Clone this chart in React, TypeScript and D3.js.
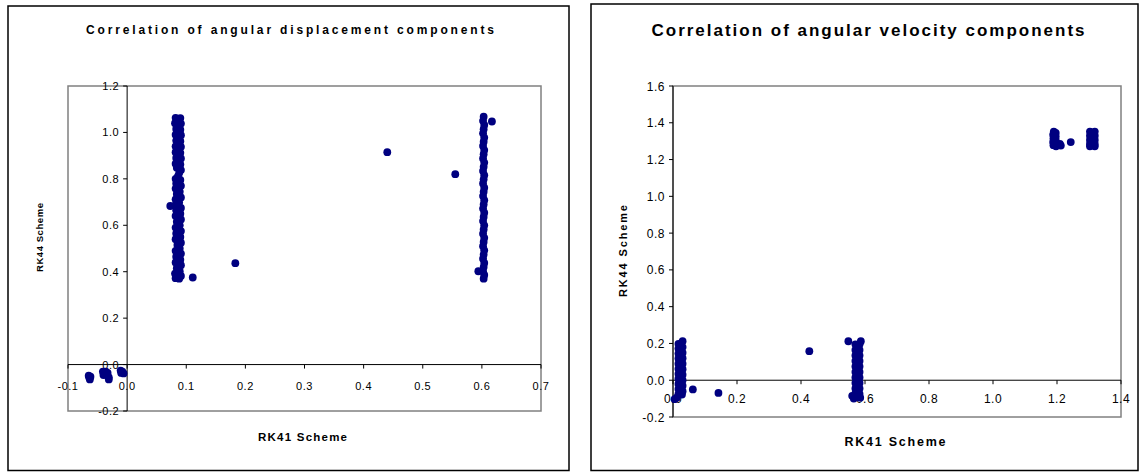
import React from 'react';
import * as d3 from 'd3';

// ---------- Chart 1: angular displacement (RK41 vs RK44) ----------
const dispXTicks = [-0.1, 0.0, 0.1, 0.2, 0.3, 0.4, 0.5, 0.6, 0.7];
const dispYTicks = [-0.2, 0.0, 0.2, 0.4, 0.6, 0.8, 1.0, 1.2];

const dispNegative: [number, number][] = [
  [-0.065, -0.048], [-0.064, -0.056], [-0.063, -0.064], [-0.062, -0.052],
  [-0.041, -0.030], [-0.039, -0.038], [-0.036, -0.031], [-0.033, -0.036],
  [-0.040, -0.045], [-0.034, -0.046], [-0.031, -0.055], [-0.031, -0.064],
  [-0.011, -0.026], [-0.008, -0.031], [-0.006, -0.038], [-0.010, -0.036],
];

const dispBandA: [number, number][] = [
  [0.082, 1.063], [0.090, 1.062], [0.086, 1.050], [0.081, 1.040], [0.091, 1.038],
  [0.083, 1.015], [0.090, 1.012], [0.082, 0.990], [0.091, 0.988], [0.086, 0.975],
  [0.083, 0.965], [0.090, 0.962], [0.082, 0.940], [0.091, 0.938], [0.085, 0.925],
  [0.082, 0.915], [0.090, 0.912], [0.083, 0.890], [0.091, 0.888], [0.086, 0.875],
  [0.082, 0.865], [0.090, 0.862], [0.084, 0.848], [0.091, 0.838], [0.088, 0.825],
  [0.086, 0.812], [0.082, 0.800], [0.090, 0.795], [0.083, 0.780], [0.091, 0.770],
  [0.082, 0.758], [0.089, 0.745], [0.084, 0.735], [0.091, 0.720], [0.082, 0.712],
  [0.088, 0.698], [0.073, 0.683], [0.082, 0.688], [0.091, 0.675], [0.083, 0.665],
  [0.090, 0.650], [0.082, 0.640], [0.091, 0.625], [0.084, 0.615], [0.089, 0.600],
  [0.082, 0.590], [0.091, 0.575], [0.083, 0.565], [0.090, 0.550], [0.082, 0.540],
  [0.091, 0.525], [0.085, 0.515], [0.089, 0.500], [0.082, 0.490], [0.091, 0.478],
  [0.083, 0.465], [0.090, 0.452], [0.082, 0.440], [0.091, 0.428], [0.084, 0.415],
  [0.089, 0.402], [0.081, 0.392], [0.091, 0.382], [0.082, 0.372], [0.088, 0.370],
];

const dispBandB: [number, number][] = [
  [0.603, 1.068], [0.602, 1.050], [0.604, 1.032], [0.603, 1.014], [0.602, 0.996],
  [0.604, 0.978], [0.603, 0.960], [0.602, 0.942], [0.604, 0.924], [0.603, 0.906],
  [0.602, 0.888], [0.604, 0.870], [0.603, 0.852], [0.602, 0.834], [0.604, 0.816],
  [0.603, 0.798], [0.602, 0.780], [0.604, 0.762], [0.603, 0.744], [0.602, 0.726],
  [0.604, 0.708], [0.603, 0.690], [0.602, 0.672], [0.604, 0.654], [0.603, 0.636],
  [0.602, 0.618], [0.604, 0.600], [0.603, 0.582], [0.602, 0.564], [0.604, 0.546],
  [0.603, 0.528], [0.602, 0.510], [0.604, 0.492], [0.603, 0.474], [0.602, 0.456],
  [0.604, 0.438], [0.603, 0.420], [0.594, 0.402], [0.602, 0.402], [0.604, 0.386],
  [0.603, 0.370],
];

const dispOutliers: [number, number][] = [
  [0.111, 0.375], [0.183, 0.437], [0.440, 0.915], [0.555, 0.820], [0.617, 1.047],
];

// ---------- Chart 2: angular velocity (RK41 vs RK44) ----------
const velXTicks = [0.0, 0.2, 0.4, 0.6, 0.8, 1.0, 1.2, 1.4];
const velYTicks = [-0.2, 0.0, 0.2, 0.4, 0.6, 0.8, 1.0, 1.2, 1.4, 1.6];

const velBandA: [number, number][] = [
  [0.017, 0.198], [0.030, 0.212], [0.024, 0.190], [0.017, 0.172], [0.030, 0.180],
  [0.024, 0.160], [0.017, 0.145], [0.030, 0.150], [0.024, 0.130], [0.017, 0.118],
  [0.030, 0.120], [0.024, 0.100], [0.017, 0.090], [0.030, 0.090], [0.024, 0.070],
  [0.017, 0.062], [0.030, 0.060], [0.024, 0.040], [0.017, 0.035], [0.030, 0.030],
  [0.024, 0.010], [0.017, 0.008], [0.030, 0.000], [0.024, -0.018], [0.017, -0.020],
  [0.030, -0.030], [0.024, -0.045], [0.017, -0.048], [0.030, -0.060], [0.024, -0.070],
  [0.017, -0.076], [0.028, -0.078], [0.005, -0.103], [0.012, -0.095],
];

const velBandB: [number, number][] = [
  [0.548, 0.212], [0.587, 0.212], [0.570, 0.195], [0.583, 0.195], [0.576, 0.180],
  [0.570, 0.165], [0.583, 0.165], [0.576, 0.150], [0.570, 0.135], [0.583, 0.135],
  [0.576, 0.120], [0.570, 0.105], [0.583, 0.105], [0.576, 0.090], [0.570, 0.075],
  [0.583, 0.075], [0.576, 0.060], [0.570, 0.045], [0.583, 0.045], [0.576, 0.030],
  [0.570, 0.015], [0.583, 0.015], [0.576, 0.000], [0.570, -0.015], [0.583, -0.015],
  [0.576, -0.030], [0.570, -0.045], [0.583, -0.045], [0.576, -0.060], [0.570, -0.072],
  [0.583, -0.075], [0.560, -0.085], [0.576, -0.088], [0.565, -0.100], [0.585, -0.095],
];

const velUpper: [number, number][] = [
  [1.190, 1.352], [1.196, 1.345], [1.188, 1.335], [1.196, 1.325], [1.189, 1.315],
  [1.196, 1.305], [1.188, 1.295], [1.196, 1.287], [1.189, 1.278], [1.197, 1.272],
  [1.205, 1.280], [1.212, 1.276], [1.209, 1.285],
  [1.303, 1.352], [1.318, 1.352], [1.310, 1.340], [1.303, 1.330], [1.318, 1.330],
  [1.310, 1.318], [1.303, 1.307], [1.318, 1.307], [1.310, 1.296], [1.303, 1.285],
  [1.318, 1.285], [1.310, 1.278], [1.303, 1.272], [1.318, 1.272],
];

const velOutliers: [number, number][] = [
  [0.062, -0.050], [0.142, -0.069], [0.426, 0.158], [1.243, 1.295],
];

const NAVY = '#000080';
const FONT = "Arial, 'Liberation Sans', sans-serif";
const fmt = (v: number) => v.toFixed(1);

export default function App() {
  const xL = d3.scaleLinear().domain([-0.1, 0.7]).range([68, 541]);
  const yL = d3.scaleLinear().domain([-0.2, 1.2]).range([411, 86]);
  const xR = d3.scaleLinear().domain([0, 1.4]).range([673, 1121]);
  const yR = d3.scaleLinear().domain([-0.2, 1.6]).range([417, 86]);

  const dispPoints = [...dispNegative, ...dispBandA, ...dispBandB, ...dispOutliers];
  const velPoints = [...velBandA, ...velBandB, ...velUpper, ...velOutliers];

  return (
    <svg
      width={1139}
      height={473}
      style={{ position: 'absolute', left: 0, top: 0, background: '#fff' }}
      fontFamily={FONT}
    >
      <rect x={0} y={0} width={1139} height={473} fill="#fff" />

      {/* ---------- Left panel ---------- */}
      <rect x={8} y={6} width={561} height={464.5} fill="none" stroke="#000" strokeWidth={1.5} />
      <text x={290} y={34} textAnchor="middle" fontSize={12} fontWeight="bold"
        textLength={408} lengthAdjust="spacing">Correlation of angular displacement components</text>

      <rect x={xL(-0.1)} y={yL(1.2)} width={xL(0.7) - xL(-0.1)} height={yL(-0.2) - yL(1.2)}
        fill="none" stroke="#808080" strokeWidth={1.5} />
      <line x1={xL(-0.1)} x2={xL(0.7)} y1={yL(0)} y2={yL(0)} stroke="#000" strokeWidth={1} />
      <line x1={xL(0)} x2={xL(0)} y1={yL(1.2)} y2={yL(-0.2)} stroke="#000" strokeWidth={1} />
      {dispXTicks.map((t) => (
        <g key={'lxt' + t}>
          <line x1={xL(t)} x2={xL(t)} y1={yL(0)} y2={yL(0) + 4} stroke="#000" />
          <text x={xL(t)} y={yL(0) + 25} textAnchor="middle" fontSize={11} fill="#000"
            letterSpacing={0.5}>{fmt(t)}</text>
        </g>
      ))}
      {dispYTicks.map((t) => (
        <g key={'lyt' + t}>
          <line x1={xL(0) - 4} x2={xL(0)} y1={yL(t)} y2={yL(t)} stroke="#000" />
          <text x={xL(0) - 8} y={yL(t) + 4} textAnchor="end" fontSize={11} fill="#000"
            letterSpacing={0.5}>{fmt(t)}</text>
        </g>
      ))}
      {dispPoints.map(([x, y], i) => (
        <circle key={'dp' + i} cx={xL(x)} cy={yL(y)} r={3.9} fill={NAVY} />
      ))}
      <text x={302.5} y={440.5} textAnchor="middle" fontSize={11.5} fontWeight="bold"
        textLength={89} lengthAdjust="spacing">RK41 Scheme</text>
      <text transform="translate(42.5,237.5) rotate(-90)" textAnchor="middle" fontSize={9.5}
        fontWeight="bold" textLength={69} lengthAdjust="spacing">RK44 Scheme</text>

      {/* ---------- Right panel ---------- */}
      <rect x={591} y={4} width={547} height={466.5} fill="none" stroke="#000" strokeWidth={1.5} />
      <text x={868} y={36} textAnchor="middle" fontSize={17} fontWeight="bold"
        textLength={433} lengthAdjust="spacing">Correlation of angular velocity components</text>

      <rect x={xR(0)} y={yR(1.6)} width={xR(1.4) - xR(0)} height={yR(-0.2) - yR(1.6)}
        fill="none" stroke="#808080" strokeWidth={1.5} />
      <line x1={xR(0)} x2={xR(1.4)} y1={yR(0)} y2={yR(0)} stroke="#000" strokeWidth={1} />
      <line x1={xR(0)} x2={xR(0)} y1={yR(1.6)} y2={yR(-0.2)} stroke="#000" strokeWidth={1} />
      {velXTicks.map((t) => (
        <g key={'rxt' + t}>
          <line x1={xR(t)} x2={xR(t)} y1={yR(0)} y2={yR(0) + 4} stroke="#000" />
          <text x={xR(t)} y={yR(0) + 23} textAnchor="middle" fontSize={12} fill="#000"
            letterSpacing={0.5}>{fmt(t)}</text>
        </g>
      ))}
      {velYTicks.map((t) => (
        <g key={'ryt' + t}>
          <line x1={xR(0) - 4} x2={xR(0)} y1={yR(t)} y2={yR(t)} stroke="#000" />
          <text x={xR(0) - 8} y={yR(t) + 4.5} textAnchor="end" fontSize={12} fill="#000"
            letterSpacing={0.5}>{fmt(t)}</text>
        </g>
      ))}
      {velPoints.map(([x, y], i) => (
        <circle key={'vp' + i} cx={xR(x)} cy={yR(y)} r={3.9} fill={NAVY} />
      ))}
      <text x={895} y={446} textAnchor="middle" fontSize={12.5} fontWeight="bold"
        textLength={101} lengthAdjust="spacing">RK41 Scheme</text>
      <text transform="translate(626.5,251) rotate(-90)" textAnchor="middle" fontSize={11}
        fontWeight="bold" textLength={92} lengthAdjust="spacing">RK44 Scheme</text>
    </svg>
  );
}
